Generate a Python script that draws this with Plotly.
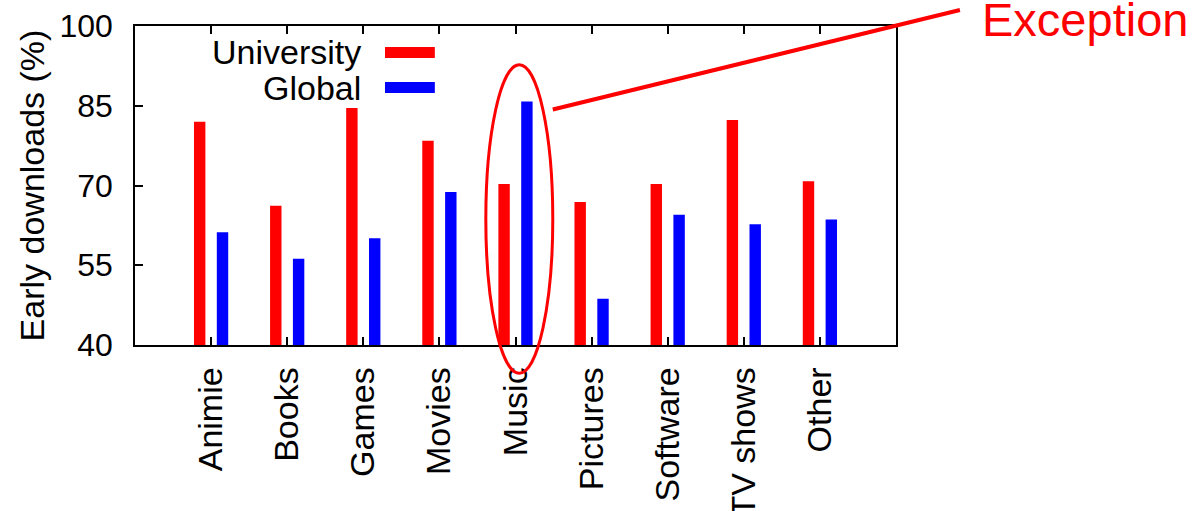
import plotly.graph_objects as go

categories = ["Animie", "Books", "Games", "Movies", "Music",
              "Pictures", "Software", "TV shows", "Other"]
university = [82.0, 66.2, 84.6, 78.4, 70.3, 66.9, 70.3, 82.3, 70.8]
global_ = [61.2, 56.2, 60.1, 68.8, 85.8, 48.7, 64.5, 62.7, 63.6]
y_ticks = [40, 55, 70, 85, 100]

FONT = "Liberation Sans, Arial, sans-serif"
idx = list(range(len(categories)))

fig = go.Figure()
fig.add_trace(go.Bar(x=idx, y=university, name="University",
                     marker=dict(color="#ff0000", line=dict(width=0))))
fig.add_trace(go.Bar(x=idx, y=global_, name="Global",
                     marker=dict(color="#0000ff", line=dict(width=0))))

# paper coords helpers: x range is [-1, n], y range [40, 100]
n = len(categories)


def px_(v):
    return (v + 1) / (n + 1)


def py_(v):
    return (v - 40) / 60


music = categories.index("Music")
shapes = [
    # ellipse around the "exception" category
    dict(type="circle", xref="paper", yref="paper",
         x0=px_(music - 0.39), x1=px_(music + 0.49),
         y0=py_(34.7), y1=py_(92.7),
         line=dict(color="#ff0000", width=3)),
    # pointer line to the label
    dict(type="line", xref="paper", yref="paper",
         x0=px_(music + 0.49), y0=py_(84.3),
         x1=1.084, y1=1.05,
         line=dict(color="#ff0000", width=4)),
    # legend samples
    dict(type="line", xref="paper", yref="paper",
         x0=0.3285, x1=0.394, y0=0.917, y1=0.917,
         line=dict(color="#ff0000", width=11)),
    dict(type="line", xref="paper", yref="paper",
         x0=0.3285, x1=0.394, y0=0.807, y1=0.807,
         line=dict(color="#0000ff", width=11)),
]

annotations = [
    dict(text="University", xref="paper", yref="paper", x=0.300, y=0.917,
         xanchor="right", yanchor="middle", showarrow=False,
         font=dict(size=34, color="black", family=FONT)),
    dict(text="Global", xref="paper", yref="paper", x=0.300, y=0.807,
         xanchor="right", yanchor="middle", showarrow=False,
         font=dict(size=34, color="black", family=FONT)),
    dict(text="Exception", xref="paper", yref="paper", x=1.11, y=1.02,
         xanchor="left", yanchor="middle", showarrow=False,
         font=dict(size=47, color="#ff0000", family=FONT)),
]

fig.update_layout(
    width=1196, height=511,
    margin=dict(l=135, r=300, t=26, b=166, autoexpand=False),
    paper_bgcolor="white", plot_bgcolor="white",
    barmode="group", bargap=0.4, bargroupgap=0.5,
    showlegend=False,
    font=dict(family=FONT, color="black"),
    shapes=shapes, annotations=annotations,
)

fig.update_xaxes(
    range=[-1, n], tickmode="array", tickvals=idx, ticktext=categories,
    tickangle=-90, tickfont=dict(size=34), ticklabelstandoff=7,
    ticks="inside", ticklen=8, tickwidth=1.5, tickcolor="black",
    showline=True, linecolor="black", linewidth=1.5, mirror="ticks",
    showgrid=False, zeroline=False, automargin=False,
)
fig.update_yaxes(
    range=[40, 100], tickvals=y_ticks, tickfont=dict(size=32),
    ticklabelstandoff=14,
    ticks="inside", ticklen=8, tickwidth=1.5, tickcolor="black",
    showline=True, linecolor="black", linewidth=1.5, mirror=True,
    showgrid=False, zeroline=False, automargin=False,
    title=dict(text="Early downloads (%)", font=dict(size=34), standoff=5),
)

# drop the default page margin so the figure fills the window exactly
fig.write_html("out.html", config={"displayModeBar": False},
               post_script="document.body.style.margin='0';")
